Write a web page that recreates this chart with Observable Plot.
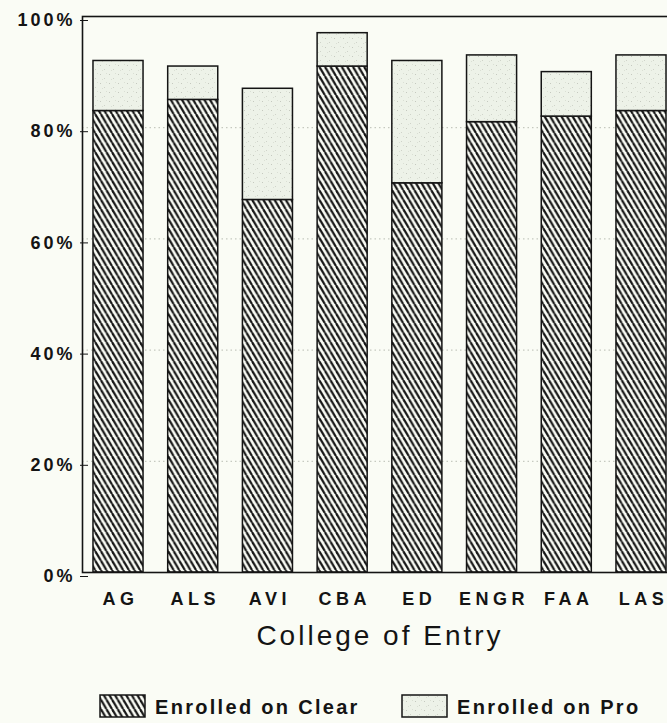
<!DOCTYPE html>
<html>
<head>
<meta charset="utf-8">
<script src="https://cdn.jsdelivr.net/npm/d3@7"></script>
<script src="https://cdn.jsdelivr.net/npm/@observablehq/plot@0.6"></script>
<style>
  html, body { margin: 0; padding: 0; background: #fafcf5; }
  #wrap { position: relative; width: 667px; height: 723px; overflow: hidden;
          font-family: "Liberation Sans", Arial, sans-serif; color: #141414; }
  #wrap svg.chart { position: absolute; left: 0; top: 0; max-width: none !important; background: transparent !important; }
  g[aria-label="y-axis tick label"] { letter-spacing: 3px; font-size: 18px; font-weight: bold; }
  g[aria-label="x-axis tick label"] { letter-spacing: 4.5px; font-size: 18px; font-weight: bold; }
  #xtitle { position: absolute; left: 0; width: 760px; top: 622px; text-align: center;
            font-size: 28px; line-height: 28px; letter-spacing: 3px; }
  .ltext { position: absolute; top: 697px; font-size: 20px; line-height: 20px; font-weight: bold; letter-spacing: 2.3px; white-space: nowrap; }
</style>
</head>
<body>
<div id="wrap"></div>
<script>
const colleges = ["AG", "ALS", "AVI", "CBA", "ED", "ENGR", "FAA", "LAS"];
const clearPct = [83, 85, 67, 91, 70, 81, 82, 83];
const proPct   = [9, 6, 20, 6, 22, 12, 8, 10];
const yTicks = [0, 20, 40, 60, 80, 100];
const gridTicks = [20, 40, 60, 80];
const seriesNames = ["Enrolled on Clear", "Enrolled on Pro"];
const xTitle = "College of Entry";

const rows = colleges.map((c, i) => ({
  college: c,
  clear: clearPct[i],
  total: clearPct[i] + proPct[i]
}));

const BG = "#fafcf5";
const INK = "#141414";

function addDefs(svgSel, prefix) {
  const defs = svgSel.insert("defs", ":first-child");
  const w = 5.6, h = 9.5;
  const hp = defs.append("pattern").attr("id", prefix + "hatch")
    .attr("patternUnits", "userSpaceOnUse").attr("width", w).attr("height", h);
  hp.append("rect").attr("width", w).attr("height", h).attr("fill", BG);
  [[-w, 0, 0, h], [0, 0, w, h], [w, 0, 2 * w, h]].forEach(([x1, y1, x2, y2]) =>
    hp.append("line").attr("x1", x1).attr("y1", y1).attr("x2", x2).attr("y2", y2)
      .attr("stroke", "#151515").attr("stroke-width", 2.2));
  const dp = defs.append("pattern").attr("id", prefix + "dots")
    .attr("patternUnits", "userSpaceOnUse").attr("width", 9).attr("height", 9);
  dp.append("rect").attr("width", 9).attr("height", 9).attr("fill", "#edf2e8");
  [[1, 2, "#c5c9bf"], [5, 6, "#cfd3c9"], [7, 1, "#dadfd4"], [3, 7, "#dadfd4"]].forEach(([x, y, c]) =>
    dp.append("rect").attr("x", x).attr("y", y).attr("width", 1).attr("height", 1).attr("fill", c));
}

const chart = Plot.plot({
  width: 677,
  height: 660,
  marginLeft: 82,
  marginRight: 0,
  marginTop: 16,
  marginBottom: 88,
  style: { fontFamily: "Liberation Sans, Arial, sans-serif", color: INK, background: "transparent" },
  x: { domain: colleges, paddingInner: 0.33, paddingOuter: 0.147, round: false, label: null },
  y: { domain: [0, 100], label: null },
  marks: [
    Plot.ruleY(gridTicks, { stroke: "#b9bdb3", strokeDasharray: "1.5,3", strokeWidth: 1 }),
    Plot.barY(rows, { x: "college", y1: 0, y2: "clear", fill: "url(#phatch)", stroke: INK, strokeWidth: 1.5 }),
    Plot.barY(rows, { x: "college", y1: "clear", y2: "total", fill: "url(#pdots)", stroke: INK, strokeWidth: 1.5 }),
    Plot.frame({ stroke: INK, strokeWidth: 1.6 }),
    Plot.axisY(yTicks, { tickSize: 8, dx: 6, dy: 4, tickPadding: 5, tickFormat: d => d + "%",
      fontSize: 18, fontWeight: "bold", label: null }),
    Plot.axisX({ tickSize: 0, tickPadding: 20, dx: 2, fontSize: 18, fontWeight: "bold", label: null })
  ]
});
chart.classList.add("chart");
addDefs(d3.select(chart), "p");

const wrap = document.getElementById("wrap");
wrap.appendChild(chart);

const title = document.createElement("div");
title.id = "xtitle";
title.textContent = xTitle;
wrap.appendChild(title);

// legend
const legendX = [100, 402];
const legendFill = ["url(#lhatch)", "url(#ldots)"];
const lsvg = d3.select(wrap).append("svg").attr("id", "legend")
  .attr("width", 667).attr("height", 33).style("position", "absolute").style("left", "0px").style("top", "690px");
addDefs(lsvg, "l");
seriesNames.forEach((name, i) => {
  lsvg.append("rect").attr("x", legendX[i]).attr("y", 5).attr("width", 45).attr("height", 22)
    .attr("fill", legendFill[i]).attr("stroke", INK).attr("stroke-width", 1.5);
  const t = document.createElement("div");
  t.className = "ltext";
  t.style.left = (legendX[i] + 55) + "px";
  t.textContent = name;
  wrap.appendChild(t);
});
</script>
</body>
</html>
